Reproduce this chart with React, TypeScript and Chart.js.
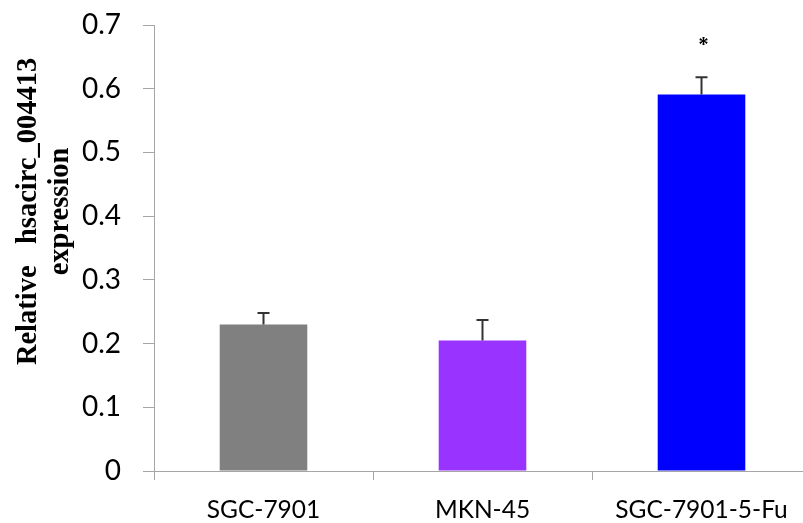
import React, { useEffect, useRef } from "react";
import { Chart, registerables } from "chart.js";

Chart.register(...registerables);

const categories = ["SGC-7901", "MKN-45", "SGC-7901-5-Fu"];
const values = [0.23, 0.205, 0.591];
const errors = [0.018, 0.032, 0.027];
const significance = ["", "", "*"];
const barColors = ["#808080", "#9933ff", "#0000ff"];
const yTitleLines = ["Relative   hsacirc_004413", "expression"];
const yMin = 0;
const yMax = 0.7;
const yStep = 0.1;

const errorBarPlugin = {
  id: "errorBars",
  afterDatasetsDraw(chart: any) {
    const ctx = chart.ctx;
    const meta = chart.getDatasetMeta(0);
    const y = chart.scales.y;
    ctx.save();
    meta.data.forEach((bar: any, i: number) => {
      const x = bar.x;
      const yTop = y.getPixelForValue(values[i] + errors[i]);
      const yVal = y.getPixelForValue(values[i]);
      ctx.strokeStyle = "#333333";
      ctx.lineWidth = 2;
      ctx.beginPath();
      ctx.moveTo(x, yVal);
      ctx.lineTo(x, yTop);
      ctx.moveTo(x - 6, yTop);
      ctx.lineTo(x + 6, yTop);
      ctx.stroke();
      if (significance[i]) {
        ctx.fillStyle = "#000000";
        ctx.font = "bold 20px 'Liberation Serif', serif";
        ctx.textAlign = "center";
        ctx.textBaseline = "middle";
        ctx.fillText(significance[i], x + 2, yTop - 31);
      }
    });
    ctx.restore();
  },
};

const yTitlePlugin = {
  id: "yTitle",
  afterDraw(chart: any) {
    const ctx = chart.ctx;
    const area = chart.chartArea;
    const cy = area.top + (area.bottom - area.top) * 0.418;
    ctx.save();
    ctx.fillStyle = "#000000";
    ctx.font = "bold 28.5px 'Liberation Serif', 'Times New Roman', serif";
    ctx.textAlign = "center";
    ctx.textBaseline = "alphabetic";
    const xs = [36, 68];
    yTitleLines.forEach((line, i) => {
      ctx.save();
      ctx.translate(xs[i], cy);
      ctx.rotate(-Math.PI / 2);
      ctx.fillText(line, 0, 0);
      ctx.restore();
    });
    ctx.restore();
  },
};

export default function App() {
  const ref = useRef<HTMLCanvasElement | null>(null);
  useEffect(() => {
    if (!ref.current) return;
    const chart = new Chart(ref.current, {
      type: "bar",
      data: {
        labels: categories,
        datasets: [
          {
            data: values,
            backgroundColor: barColors,
            borderWidth: 0,
            barPercentage: 0.4,
            categoryPercentage: 1,
          },
        ],
      },
      options: {
        responsive: false,
        animation: false,
        devicePixelRatio: 1,
        layout: { padding: { top: 25, right: 9, bottom: 0, left: 0 } },
        plugins: {
          legend: { display: false },
          tooltip: { enabled: false },
          title: { display: false },
        },
        scales: {
          x: {
            afterFit: (s: any) => {
              s.height = 52;
              s.paddingLeft = 0;
              s.paddingRight = 0;
            },
            grid: {
              display: true,
              drawOnChartArea: false,
              drawTicks: true,
              tickLength: 9,
              color: "#a6a6a6",
              offset: true,
            },
            border: { display: true, color: "#a6a6a6", width: 1 },
            ticks: {
              color: "#000000",
              font: { family: "Lato, 'Open Sans', sans-serif", size: 24.5 },
              padding: 15,
              maxRotation: 0,
            },
          },
          y: {
            min: yMin,
            max: yMax,
            afterFit: (s: any) => {
              s.width = 154;
              s.paddingTop = 0;
              s.paddingBottom = 0;
            },
            grid: {
              display: true,
              drawOnChartArea: false,
              drawTicks: true,
              tickLength: 11,
              color: "#a6a6a6",
            },
            border: { display: true, color: "#a6a6a6", width: 1 },
            ticks: {
              stepSize: yStep,
              color: "#000000",
              font: { family: "Lato, 'Open Sans', sans-serif", size: 28 },
              padding: 22,
              callback: (v: any) => {
                const n = Math.round(Number(v) * 10) / 10;
                return n === 0 ? "0" : n.toFixed(1);
              },
            },
          },
        },
      },
      plugins: [errorBarPlugin, yTitlePlugin],
    });
    return () => chart.destroy();
  }, []);
  return (
    <div
      style={{
        position: "fixed",
        top: 0,
        left: 0,
        width: 803,
        height: 523,
        overflow: "hidden",
        background: "#ffffff",
      }}
    >
      <canvas ref={ref} width={820} height={523} style={{ display: "block" }} />
    </div>
  );
}
